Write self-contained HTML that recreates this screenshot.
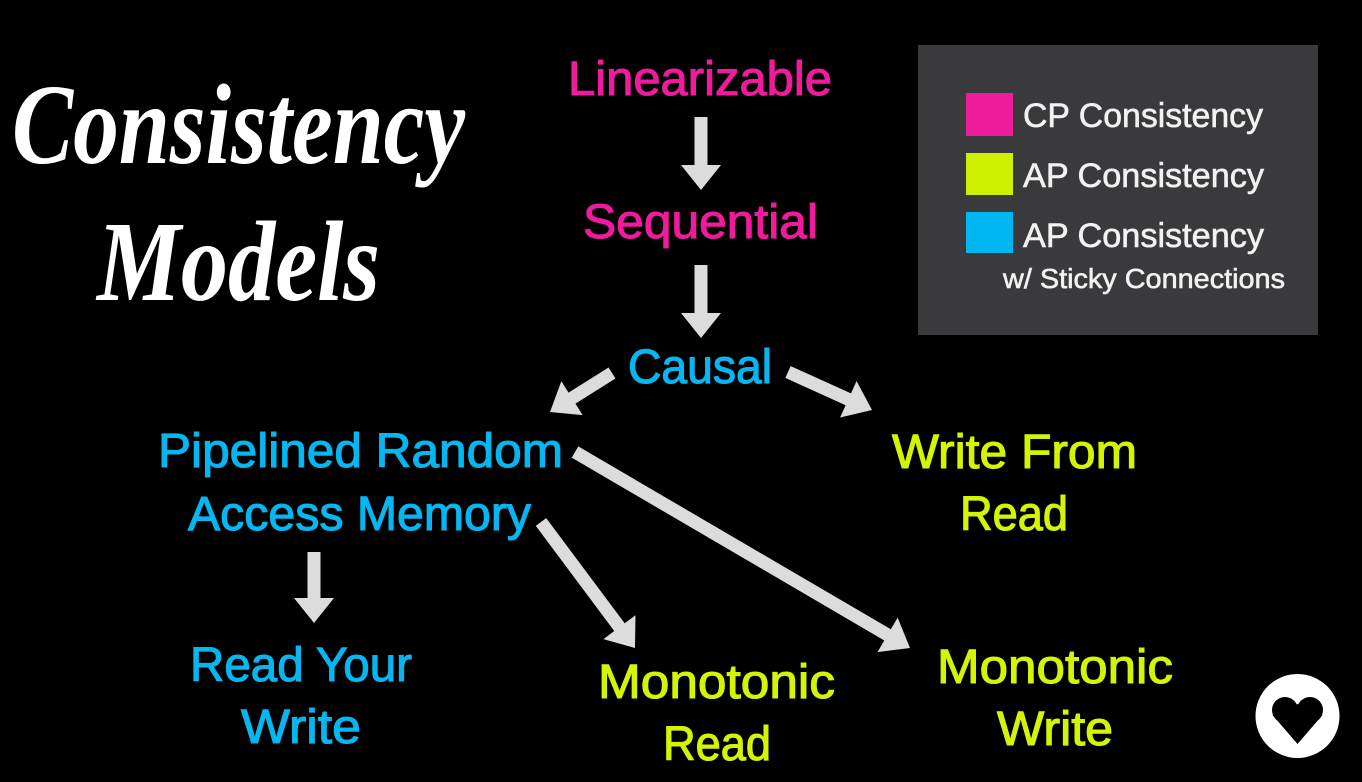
<!DOCTYPE html>
<html>
<head>
<meta charset="utf-8">
<style>
  html, body { margin: 0; padding: 0; background: #000; }
  body { width: 1362px; height: 782px; overflow: hidden; }
  svg { display: block; }
  .t { font-family: "Liberation Sans", "DejaVu Sans", sans-serif; font-size: 48px; stroke-width: 1.1px; }
  .pink { fill: #ef1a9c; stroke: #ef1a9c; }
  .blue { fill: #06b6f1; stroke: #06b6f1; }
  .green { fill: #d4f404; stroke: #d4f404; }
  .title { font-family: "Liberation Serif", "DejaVu Serif", serif; font-style: italic; font-weight: bold; font-size: 114px; fill: #fff; }
  .leg { font-family: "Liberation Sans", "DejaVu Sans", sans-serif; fill: #f2f2f2; stroke: #f2f2f2; stroke-width: 0.6px; }
</style>
</head>
<body>
<svg width="1362" height="782" viewBox="0 0 1362 782" xmlns="http://www.w3.org/2000/svg">
  <rect x="0" y="0" width="1362" height="782" fill="#000"/>

  <!-- Title -->
  <text class="title" x="12" y="163" textLength="453" lengthAdjust="spacingAndGlyphs">Consistency</text>
  <text class="title" x="97" y="300" textLength="283" lengthAdjust="spacingAndGlyphs">Models</text>

  <!-- Legend -->
  <rect x="918" y="45" width="400" height="290" fill="#3a3a3c"/>
  <rect x="966" y="93" width="47" height="43" fill="#ec1c9a"/>
  <rect x="966" y="153" width="47" height="42" fill="#cdf000"/>
  <rect x="966" y="212" width="47" height="41" fill="#00b6f0"/>
  <text class="leg" x="1023" y="127" font-size="34" textLength="240" lengthAdjust="spacingAndGlyphs">CP Consistency</text>
  <text class="leg" x="1023" y="187" font-size="34" textLength="241" lengthAdjust="spacingAndGlyphs">AP Consistency</text>
  <text class="leg" x="1023" y="247" font-size="34" textLength="241" lengthAdjust="spacingAndGlyphs">AP Consistency</text>
  <text class="leg" x="1003" y="288" font-size="28" textLength="282" lengthAdjust="spacingAndGlyphs">w/ Sticky Connections</text>

  <!-- Nodes -->
  <text class="t pink" x="568" y="95" textLength="264" lengthAdjust="spacingAndGlyphs">Linearizable</text>
  <text class="t pink" x="583" y="238" textLength="235" lengthAdjust="spacingAndGlyphs">Sequential</text>
  <text class="t blue" x="628" y="383" textLength="144" lengthAdjust="spacingAndGlyphs">Causal</text>
  <text class="t blue" x="158" y="467" textLength="405" lengthAdjust="spacingAndGlyphs">Pipelined Random</text>
  <text class="t blue" x="188" y="530" textLength="343" lengthAdjust="spacingAndGlyphs">Access Memory</text>
  <text class="t green" x="892" y="468" textLength="245" lengthAdjust="spacingAndGlyphs">Write From</text>
  <text class="t green" x="960" y="530" textLength="108" lengthAdjust="spacingAndGlyphs">Read</text>
  <text class="t blue" x="190" y="681" textLength="222" lengthAdjust="spacingAndGlyphs">Read Your</text>
  <text class="t blue" x="241" y="743" textLength="120" lengthAdjust="spacingAndGlyphs">Write</text>
  <text class="t green" x="598" y="698" textLength="237" lengthAdjust="spacingAndGlyphs">Monotonic</text>
  <text class="t green" x="663" y="760" textLength="108" lengthAdjust="spacingAndGlyphs">Read</text>
  <text class="t green" x="937" y="683" textLength="236" lengthAdjust="spacingAndGlyphs">Monotonic</text>
  <text class="t green" x="997" y="745" textLength="116" lengthAdjust="spacingAndGlyphs">Write</text>

  <!-- Arrows -->
  <g fill="#dcdcdc">
    <polygon points="694.5,117 707.5,117 707.5,165 721,165 701,190 681,165 694.5,165"/>
    <polygon points="694.5,265 707.5,265 707.5,313 721,313 701,338 681,313 694.5,313"/>
    <polygon points="307.5,552 320.5,552 320.5,598 334,598 314,623 294,598 307.5,598"/>
    <polygon points="608.54,367.50 568.54,392.66 561.35,381.23 550,412 582.65,415.09 575.46,403.66 615.46,378.50"/>
    <polygon points="785.32,377.92 845.63,405.20 840.07,417.50 872,410 856.55,381.06 850.99,393.36 790.68,366.08"/>
    <polygon points="535.79,525.89 614.24,631.05 603.42,639.12 635,648 635.48,615.20 624.66,623.27 546.21,518.11"/>
    <polygon points="571.72,457.61 884.28,640.48 877.46,652.13 910,648 897.66,617.61 890.84,629.26 578.28,446.39"/>
  </g>

  <!-- Heart icon -->
  <circle cx="1297.5" cy="716" r="42" fill="#fff"/>
  <g fill="#000">
    <circle cx="1285" cy="710" r="13"/>
    <circle cx="1310" cy="710" r="13"/>
    <polygon points="1272.5,715 1297.5,744 1322.5,715 1297.5,704"/>
  </g>
</svg>
</body>
</html>
